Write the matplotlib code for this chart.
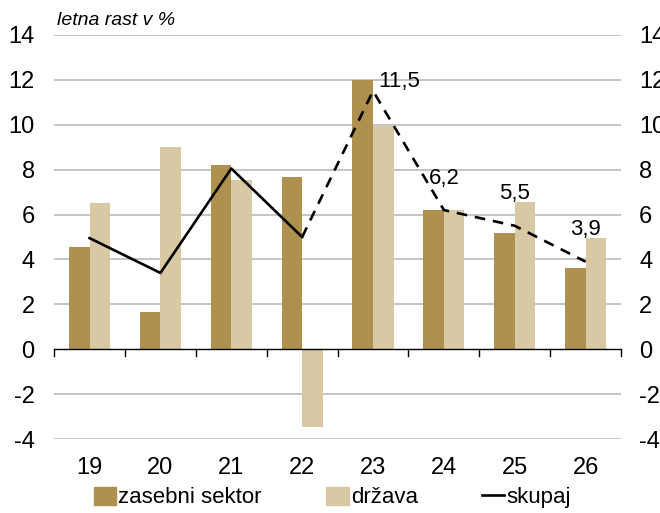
import matplotlib
matplotlib.use("Agg")
import matplotlib.pyplot as plt
from matplotlib.lines import Line2D
from matplotlib.patches import Patch
import numpy as np

plt.rcParams['font.family'] = ['Liberation Sans', 'DejaVu Sans']
plt.rcParams['axes.unicode_minus'] = False

years = ["19", "20", "21", "22", "23", "24", "25", "26"]
zasebni = [4.55, 1.65, 8.2, 7.65, 12.0, 6.2, 5.2, 3.6]
drzava = [6.5, 9.0, 7.55, -3.45, 9.95, 6.2, 6.55, 4.95]
skupaj = [4.95, 3.4, 8.05, 5.0, 11.5, 6.2, 5.5, 3.9]
labeled = {4: "11,5", 5: "6,2", 6: "5,5", 7: "3,9"}
last_actual = 3  # solid up to 22, dashed after

DARK = "#AF914F"
LIGHT = "#D8C9A4"
GRID = "#C0C0C0"

fig = plt.figure(figsize=(6.6, 5.13), dpi=100)
ax = fig.add_axes([0.082, 0.144, 0.859, 0.788])

x = np.arange(len(years))
w = 0.29
ax.bar(x - w / 2, zasebni, w, color=DARK, zorder=2)
ax.bar(x + w / 2, drzava, w, color=LIGHT, zorder=2)

ax.plot(x[:last_actual + 1], skupaj[:last_actual + 1], color="black", lw=1.9, zorder=3)
ax.plot(x[last_actual:], skupaj[last_actual:], color="black", lw=1.9, ls=(0, (4, 3)), zorder=3)

for i, txt in labeled.items():
    if i == 4:
        ax.annotate(txt, (x[i], skupaj[i]), xytext=(4, 7), textcoords="offset points",
                    ha="left", va="center", fontsize=16)
    else:
        ax.annotate(txt, (x[i], skupaj[i]), xytext=(0, 23), textcoords="offset points",
                    ha="center", va="center", fontsize=16)

ax.set_xlim(-0.5, len(years) - 0.5)
ax.set_ylim(-4, 14)
ax.set_yticks(range(-4, 15, 2))
for v in range(-4, 15, 2):
    if v != 0:
        ax.axhline(v, color=GRID, lw=1.3, zorder=0)
ax.axhline(0, color="black", lw=1.0, zorder=4)
for b in np.arange(-0.5, len(years), 1.0):
    ax.plot([b, b], [0, -0.3], color="black", lw=1.0, clip_on=False, zorder=4)

ax.set_xticks(x)
ax.set_xticklabels(years, fontsize=17)
ax.tick_params(axis="x", length=0, pad=13)
ax.tick_params(axis="y", length=0, labelsize=17, pad=14)
for s in ax.spines.values():
    s.set_visible(False)

ax2 = ax.twinx()
ax2.set_ylim(ax.get_ylim())
ax2.set_yticks(range(-4, 15, 2))
ax2.tick_params(axis="y", length=0, labelsize=17, pad=13)
for s in ax2.spines.values():
    s.set_visible(False)

ax.text(0.005, 1.015, "letna rast v %", transform=ax.transAxes, fontsize=14,
        style="italic", ha="left", va="bottom")

handles = [Patch(color=DARK), Patch(color=LIGHT), Line2D([0], [0], color="black", lw=1.9)]
fig.legend(handles, ["zasebni sektor", "država", "skupaj"], ncol=3, loc="lower left",
           bbox_to_anchor=(0.112, -0.03), frameon=False, fontsize=16,
           handlelength=1.0, handletextpad=0.1, columnspacing=2.9, handleheight=0.9)

fig.savefig("out.png", dpi=100)
